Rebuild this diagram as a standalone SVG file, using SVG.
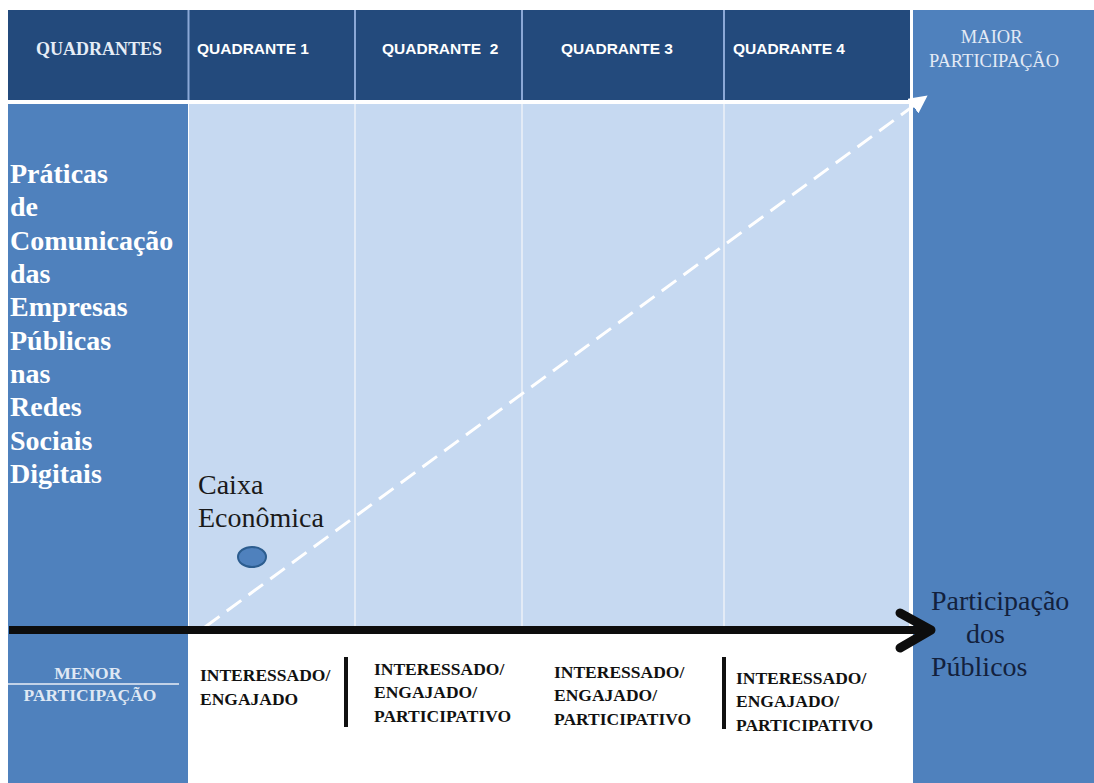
<svg xmlns="http://www.w3.org/2000/svg" width="1094" height="783" viewBox="0 0 1094 783">
  <defs>
    <style>
      .hdr { fill: #234a7c; }
      .side { fill: #4f81bd; }
      .cell { fill: #c6d9f1; }
      .serif { font-family: 'Liberation Serif', 'DejaVu Serif', serif; }
      .hq { font-family: 'Liberation Sans', Arial, sans-serif; font-weight: bold; font-size: 15.5px; fill: #ffffff; }
      .lbl { font-family: 'Liberation Serif', 'DejaVu Serif', serif; font-weight: bold; font-size: 17.5px; fill: #111111; }
      .big { font-family: 'Liberation Serif', 'DejaVu Serif', serif; font-size: 28px; }
    </style>
    <marker id="whiteHead" viewBox="0 0 10 10" refX="2" refY="5" markerWidth="6" markerHeight="6" orient="auto" markerUnits="strokeWidth">
      <path d="M0,0 L10,5 L0,10 Z" fill="#ffffff"/>
    </marker>
  </defs>

  <rect width="1094" height="783" fill="#ffffff"/>

  <!-- header band -->
  <g id="header">
    <rect class="hdr" x="8" y="10" width="902" height="90"/>
    <g stroke="#8ba8d6" stroke-width="2">
      <line x1="188.5" y1="10" x2="188.5" y2="100"/>
      <line x1="355" y1="10" x2="355" y2="100"/>
      <line x1="522" y1="10" x2="522" y2="100"/>
      <line x1="724" y1="10" x2="724" y2="100"/>
    </g>
    <text class="serif" x="99" y="55" font-size="18" font-weight="bold" fill="#e6edf7" text-anchor="middle">QUADRANTES</text>
    <text class="hq" x="197" y="54">QUADRANTE 1</text>
    <text class="hq" x="382" y="54" xml:space="preserve">QUADRANTE  2</text>
    <text class="hq" x="561" y="54">QUADRANTE 3</text>
    <text class="hq" x="733" y="54">QUADRANTE 4</text>
  </g>

  <!-- right column: higher participation -->
  <g id="right-column">
    <rect class="side" x="913" y="10" width="181" height="773"/>
    <text class="serif" font-size="18.5" fill="#e3eaf5" text-anchor="middle">
      <tspan x="994" y="43">MAIOR</tspan>
      <tspan x="994" y="67">PARTICIPAÇÃO</tspan>
    </text>
  </g>

  <!-- left column: communication practices -->
  <g id="left-column">
    <rect class="side" x="8" y="104" width="180" height="679"/>
    <text class="big" font-weight="bold" fill="#ffffff">
      <tspan x="10" y="183">Práticas</tspan>
      <tspan x="10" y="216">de</tspan>
      <tspan x="10" y="250">Comunicação</tspan>
      <tspan x="10" y="283">das</tspan>
      <tspan x="10" y="316">Empresas</tspan>
      <tspan x="10" y="350">Públicas</tspan>
      <tspan x="10" y="383">nas</tspan>
      <tspan x="10" y="416">Redes</tspan>
      <tspan x="10" y="450">Sociais</tspan>
      <tspan x="10" y="483">Digitais</tspan>
    </text>
  </g>

  <!-- lower-left: lower participation -->
  <g id="menor">
    <line x1="8" y1="684" x2="179" y2="684" stroke="#e8eef7" stroke-width="1.5"/>
    <text class="serif" font-size="17.5" font-weight="bold" fill="#dfe8f4" text-anchor="middle">
      <tspan x="90" y="679">MENOR</tspan>
      <tspan x="90" y="701">PARTICIPAÇÃO</tspan>
    </text>
  </g>

  <!-- quadrant cells -->
  <g id="quadrants">
    <rect class="cell" x="189" y="104" width="721" height="523"/>
    <g stroke="#e3ebf6" stroke-width="2">
      <line x1="355" y1="104" x2="355" y2="627"/>
      <line x1="522" y1="104" x2="522" y2="627"/>
      <line x1="724" y1="104" x2="724" y2="627"/>
    </g>
  </g>

  <!-- organisation plotted in quadrant 1 -->
  <g id="caixa">
    <text class="big" fill="#1a1a1a">
      <tspan x="198" y="494">Caixa</tspan>
      <tspan x="198" y="527">Econômica</tspan>
    </text>
    <ellipse cx="252" cy="557" rx="14" ry="10" fill="#4f81bd" stroke="#2c5d8f" stroke-width="2"/>
  </g>

  <!-- axes -->
  <g id="connectors">
    <line x1="8" y1="102" x2="911" y2="102" stroke="#ffffff" stroke-width="4"/>
    <line x1="910.5" y1="100" x2="910.5" y2="627" stroke="#ffffff" stroke-width="3"/>
    <line x1="205" y1="627" x2="916" y2="104" stroke="#ffffff" stroke-width="3" stroke-dasharray="18 9" marker-end="url(#whiteHead)"/>
    <line x1="9" y1="630" x2="928" y2="630" stroke="#0d0d0d" stroke-width="8"/>
    <path d="M900,613 L931,630 L900,648" fill="none" stroke="#0d0d0d" stroke-width="9" stroke-linecap="round" stroke-linejoin="round"/>
  </g>

  <!-- horizontal axis title -->
  <g id="axis-title">
    <text class="big" fill="#13213d">
      <tspan x="931" y="610">Participação</tspan>
      <tspan x="966" y="643">dos</tspan>
      <tspan x="931" y="676">Públicos</tspan>
    </text>
  </g>

  <!-- audience levels per quadrant -->
  <g id="level-1">
    <text class="lbl"><tspan x="200" y="681">INTERESSADO/</tspan><tspan x="200" y="705">ENGAJADO</tspan></text>
  </g>
  <g id="level-2">
    <rect x="344" y="657" width="4" height="70" fill="#111111"/>
    <text class="lbl"><tspan x="374" y="675">INTERESSADO/</tspan><tspan x="374" y="698">ENGAJADO/</tspan><tspan x="374" y="722">PARTICIPATIVO</tspan></text>
  </g>
  <g id="level-3">
    <text class="lbl"><tspan x="554" y="678">INTERESSADO/</tspan><tspan x="554" y="701">ENGAJADO/</tspan><tspan x="554" y="725">PARTICIPATIVO</tspan></text>
  </g>
  <g id="level-4">
    <rect x="722" y="657" width="4" height="72" fill="#111111"/>
    <text class="lbl"><tspan x="736" y="684">INTERESSADO/</tspan><tspan x="736" y="707">ENGAJADO/</tspan><tspan x="736" y="731">PARTICIPATIVO</tspan></text>
  </g>
</svg>
